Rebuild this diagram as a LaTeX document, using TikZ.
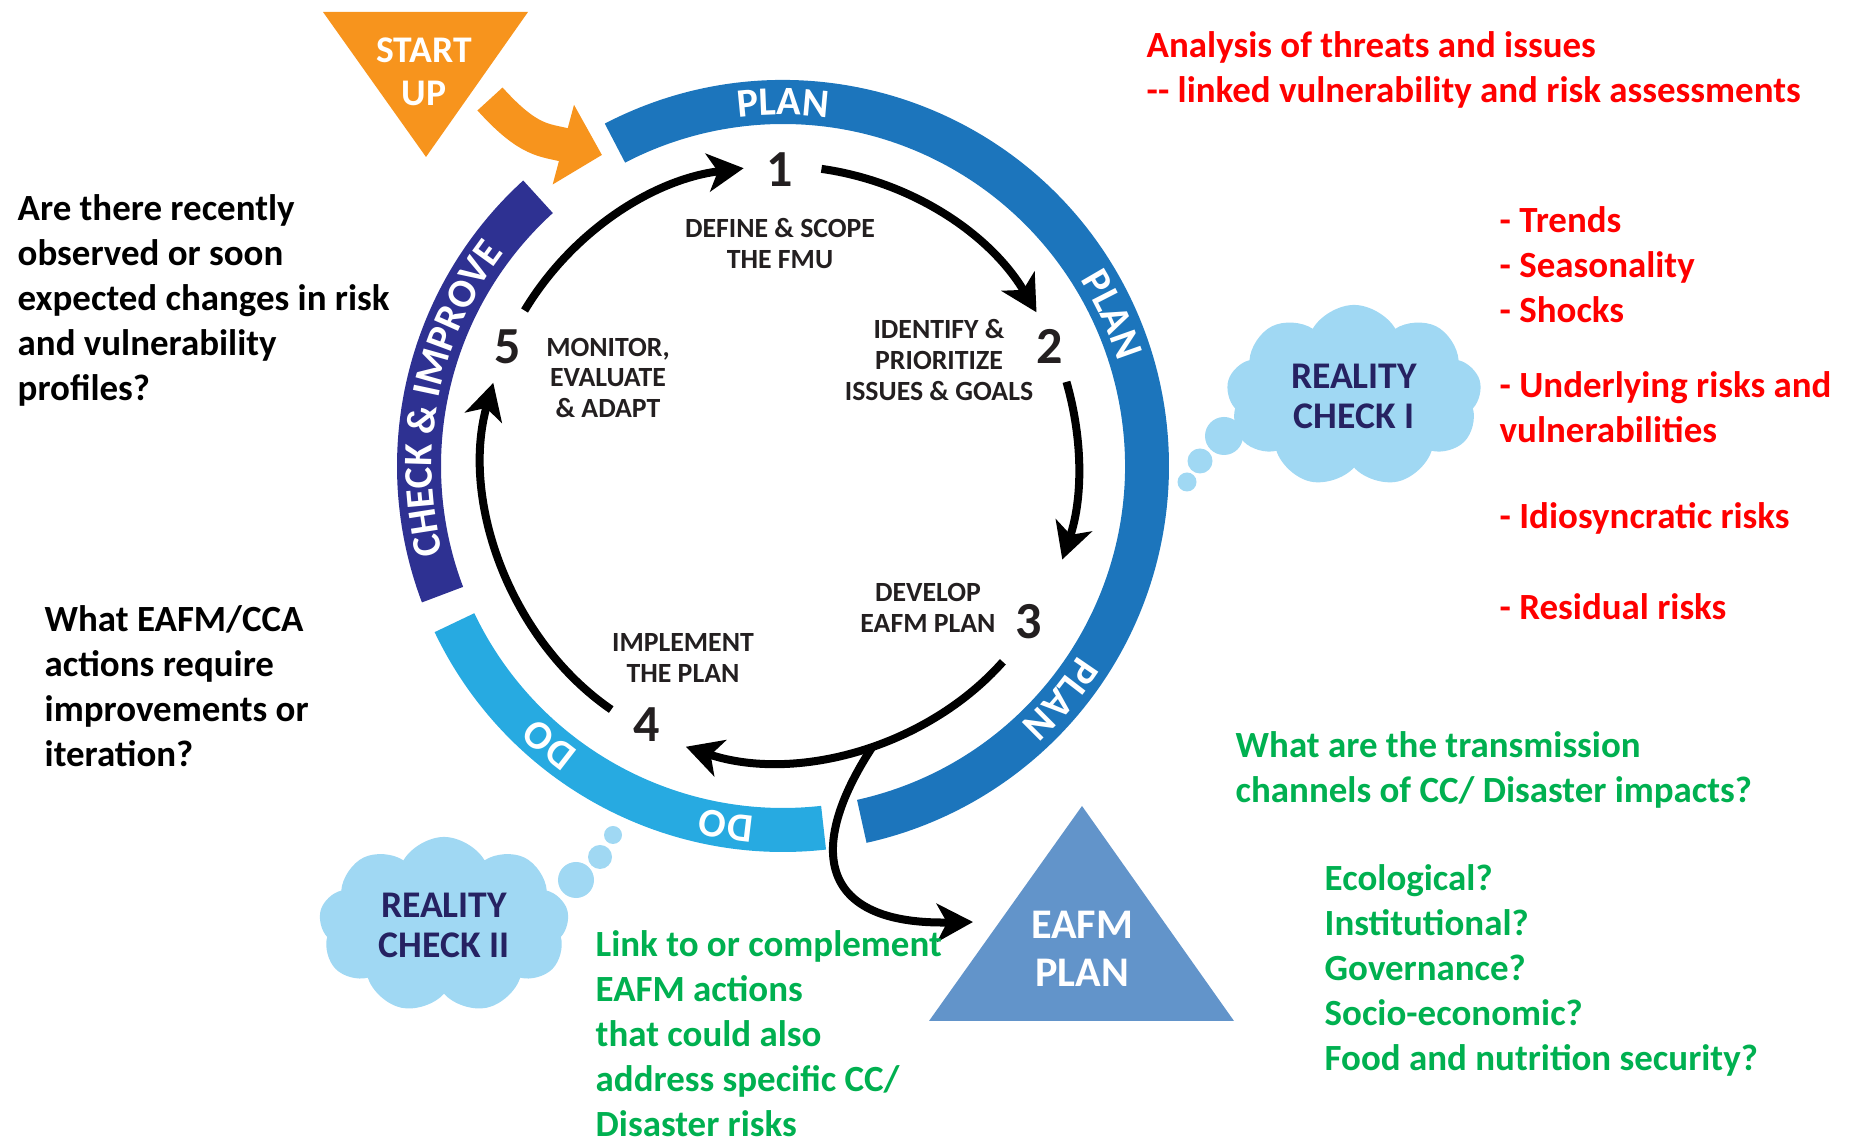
\documentclass[tikz,border=0pt]{standalone}
\usepackage{fontspec}
\setmainfont{Carlito}
\usetikzlibrary{arrows.meta,shapes.geometric,shapes.symbols,decorations.text}

\definecolor{planblue}{RGB}{28,117,188}
\definecolor{checkblue}{RGB}{46,49,146}
\definecolor{doblue}{RGB}{39,170,225}
\definecolor{startorange}{RGB}{247,148,29}
\definecolor{cloudblue}{RGB}{160,216,243}
\definecolor{cloudtext}{RGB}{38,34,98}
\definecolor{eafmblue}{RGB}{98,148,202}
\definecolor{notered}{RGB}{255,0,0}
\definecolor{notegreen}{RGB}{0,176,80}
\definecolor{steptext}{RGB}{35,31,32}

\newcommand{\bodyfont}{\fontsize{10.5}{12.8}\selectfont\bfseries}
\newcommand{\stepfont}{\fontsize{7.9}{8.8}\selectfont\bfseries}
\newcommand{\numfont}{\fontsize{14.8}{16}\selectfont\bfseries}
\newcommand{\ringfont}{\fontsize{11.5}{12}\selectfont\bfseries}
\newcommand{\boxfont}{\fontsize{10.7}{11.4}\selectfont\bfseries}

% one piece of the outer ring: from angle, to angle, colour
\newcommand{\ringpiece}[3]{%
  \fill[#3] ([shift={(C)}]#1:386) arc[start angle=#1, end angle=#2, radius=386]
    -- ([shift={(C)}]#2:342) arc[start angle=#2, end angle=#1, radius=342] -- cycle;}
% white word along the ring, centred on an angle
\newcommand{\ringtext}[2]{%
  \path[decorate, decoration={text along path, text align=center,
      text={|\ringfont\color{white}|#2}}]
    ([shift={(C)}]#1+45:351) arc[start angle=#1+45, end angle=#1-45, radius=351];}

\begin{document}
\begin{tikzpicture}[x=0.01cm, y=0.01cm,
  bodytext/.style={anchor=west, align=left, inner sep=0pt, font=\bodyfont},
  steplabel/.style={align=center, inner sep=0pt, font=\stepfont, text=steptext},
  stepnum/.style={inner sep=0pt, font=\numfont, text=steptext},
  cyclearrow/.style={line width=0.08cm, -{Stealth[length=0.36cm, width=0.38cm, inset=0.1cm]}},
  thought/.style={cloud, cloud puffs=9, cloud puff arc=120, aspect=1.4, fill=cloudblue,
    inner sep=0pt, align=center, font=\boxfont, text=cloudtext},
  bubble/.style={circle, fill=cloudblue, inner sep=0pt},
  ]
\useasboundingbox (0,0) rectangle (1858,1140);

\coordinate (C) at (783,674); % ring centre
\coordinate (O) at (780,676); % centre of the arrow circle

% outer ring
\ringpiece{117.5}{-77.5}{planblue}
\ringpiece{200.7}{132.3}{checkblue}
\ringpiece{276.4}{205.5}{doblue}
\ringtext{90}{PLAN}
\ringtext{24.7}{PLAN}
\ringtext{-40}{PLAN}
\ringtext{168.5}{CHECK {\&} IMPROVE}
\ringtext{230}{DO}
\ringtext{261}{DO}

% start up
\fill[startorange] (323,1128) -- (528,1128) -- (426,983) -- cycle;
\node[align=center, inner sep=0pt, text=white, font=\fontsize{10.7}{12.2}\selectfont\bfseries]
  (start) at (424,1068) {START\\UP};
\coordinate (startfoot) at (490,1041);
\coordinate (ringgap) at (602,985);
\draw[startorange, line width=0.34cm, -{Triangle[length=0.4cm, width=0.8cm]}]
  (startfoot) to[out=-48, in=165, looseness=1.2] (ringgap);

% the five steps
\node[stepnum] (n1) at (780,970) {1};
\node[stepnum] (n2) at (1050,794) {2};
\node[stepnum] (n3) at (1029,518) {3};
\node[stepnum] (n4) at (647,415) {4};
\node[stepnum] (n5) at (508,793) {5};
\node[steplabel] (l1) at (780,896) {DEFINE \& SCOPE\\THE FMU};
\node[steplabel] (l2) at (939,780) {IDENTIFY \&\\PRIORITIZE\\ISSUES \& GOALS};
\node[steplabel] (l3) at (928,532) {DEVELOP\\EAFM PLAN};
\node[steplabel] (l4) at (683,482) {IMPLEMENT\\THE PLAN};
\node[steplabel] (l5) at (608,762) {MONITOR,\\EVALUATE\\\& ADAPT};

\foreach \a/\b [count=\i, evaluate=\a as \outa using \a-90, evaluate=\b as \inb using \b+90]
    in {149/97, 82/30.6, 16/-18.7, -41.6/-108.4, 235.5/164.2} {
  \coordinate (s\i) at ([shift={(O)}]\a:298);
  \coordinate (e\i) at ([shift={(O)}]\b:298);
  \draw[cyclearrow] (s\i) to[out=\outa, in=\inb, looseness=0.9] (e\i);
}

% EAFM plan
\fill[eafmblue] (1082,334) -- (929,119) -- (1234,119) -- cycle;
\node[align=center, inner sep=0pt, text=white, font=\fontsize{12}{13.5}\selectfont\bfseries]
  (eafm) at (1082,191) {EAFM\\PLAN};
\coordinate (split) at ([shift={(O)}]-72:298);
\coordinate (eafmtip) at (973,218);
\draw[cyclearrow] (split) .. controls (805,290) and (820,215) .. (eafmtip);

% reality checks
\node[thought, minimum width=2.55cm, minimum height=1.82cm] (rc1) at (1354,744) {REALITY\\CHECK I};
\node[bubble, minimum size=0.38cm] (rc1a) at (1224,704) {};
\node[bubble, minimum size=0.25cm] (rc1b) at (1200,679) {};
\node[bubble, minimum size=0.19cm] (rc1c) at (1187,658) {};
\node[thought, minimum width=2.5cm, minimum height=1.76cm] (rc2) at (444,215) {REALITY\\CHECK II};
\node[bubble, minimum size=0.36cm] (rc2a) at (576,260) {};
\node[bubble, minimum size=0.24cm] (rc2b) at (600,283) {};
\node[bubble, minimum size=0.18cm] (rc2c) at (613,305) {};

% notes
\node[bodytext] (q1) at (17,840) {Are there recently\\observed or soon\\expected changes in risk\\and vulnerability\\profiles?};
\node[bodytext] (q2) at (44,454) {What EAFM/CCA\\actions require\\improvements or\\iteration?};
\node[bodytext, text=notered] (r0) at (1146,1070) {Analysis of threats and issues\\{-}{-} linked vulnerability and risk assessments};
\node[bodytext, text=notered] (r1) at (1499,875) {- Trends\\- Seasonality\\- Shocks};
\node[bodytext, text=notered] (r2) at (1499,733) {- Underlying risks and\\vulnerabilities};
\node[bodytext, text=notered] (r3) at (1499,622) {- Idiosyncratic risks};
\node[bodytext, text=notered] (r4) at (1499,533) {- Residual risks};
\node[bodytext, text=notegreen] (g1) at (1235,370) {What are the transmission\\channels of CC/ Disaster impacts?};
\node[bodytext, text=notegreen] (g2) at (1324,170) {Ecological?\\Institutional?\\Governance?\\Socio-economic?\\Food and nutrition security?};
\node[bodytext, text=notegreen] (g3) at (595,106) {Link to or complement\\EAFM actions\\that could also\\address specific CC/\\Disaster risks};
\end{tikzpicture}
\end{document}
